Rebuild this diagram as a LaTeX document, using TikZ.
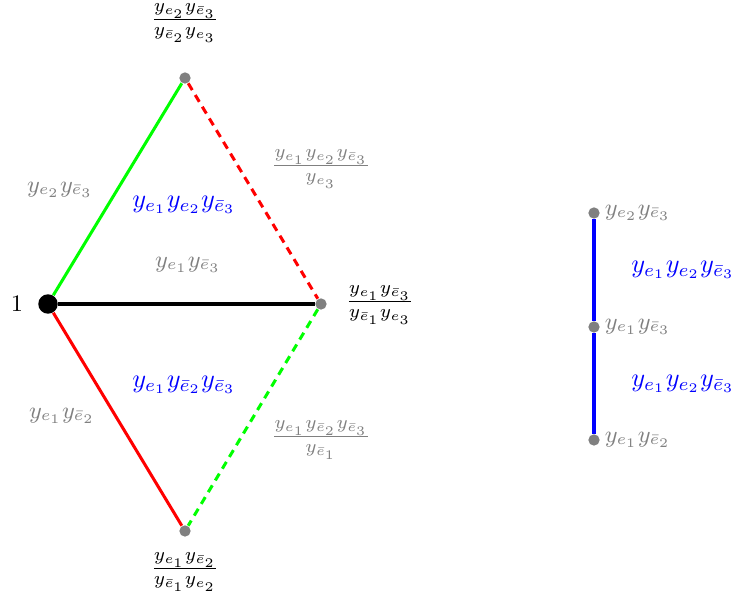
\documentclass[tikz,border=0pt]{standalone}
\usepackage{amsmath}
\begin{document}
\begin{tikzpicture}[x=0.38pt,y=-0.38pt,
  dot/.style={circle,fill=gray,inner sep=0pt,minimum size=4.3pt},
  bigdot/.style={circle,fill=black,inner sep=0pt,minimum size=7.4pt},
  edge/.style={line width=1.15pt},
  dsh/.style={line width=1.15pt,dash pattern=on 3pt off 2.2pt},
  glab/.style={text=gray,font=\small,inner sep=1pt},
  blab/.style={text=blue,inner sep=1pt},
  flab/.style={font=\normalsize,inner sep=1pt},
  gflab/.style={text=gray,font=\normalsize,inner sep=1pt}]
\useasboundingbox (0,0) rectangle (731,598);
% nodes
\node[bigdot] (A) at (48,304) {};
\node[dot] (T) at (185,78) {};
\node[dot] (R) at (321,304) {};
\node[dot] (B) at (185,531) {};
% edges
\draw[edge,green] (A) -- (T);
\draw[dsh,red] (T) -- (R);
\draw[edge,black] (A) -- (R);
\draw[dsh,green] (R) -- (B);
\draw[edge,red] (A) -- (B);
% labels
\node[font=\small,inner sep=1pt] (l1) at (17,304) {$1$};
\node[flab] (lT) at (185,23) {$\frac{y_{e_2}y_{\bar e_3}}{y_{\bar e_2}y_{e_3}}$};
\node[flab] (lR) at (380,305) {$\frac{y_{e_1}y_{\bar e_3}}{y_{\bar e_1}y_{e_3}}$};
\node[flab] (lB) at (185,572) {$\frac{y_{e_1}y_{\bar e_2}}{y_{\bar e_1}y_{e_2}}$};
\node[glab] (g1) at (60,190) {$y_{e_2}y_{\bar e_3}$};
\node[glab] (g2) at (188,265) {$y_{e_1}y_{\bar e_3}$};
\node[glab] (g3) at (62,416) {$y_{e_1}y_{\bar e_2}$};
\node[gflab] (gf1) at (321,169) {$\color{gray}\frac{y_{e_1}y_{e_2}y_{\bar e_3}}{y_{e_3}}$};
\node[gflab] (gf2) at (321,440) {$\color{gray}\frac{y_{e_1}y_{\bar e_2}y_{\bar e_3}}{y_{\bar e_1}}$};
\node[blab] (b1) at (184,205) {$y_{e_1}y_{e_2}y_{\bar e_3}$};
\node[blab] (b2) at (184,385) {$y_{e_1}y_{\bar e_2}y_{\bar e_3}$};
% right column
\node[dot] (P) at (594,213) {};
\node[dot] (Q) at (594,327) {};
\node[dot] (S) at (594,440) {};
\draw[edge,blue] (P) -- (Q);
\draw[edge,blue] (Q) -- (S);
\node[glab,anchor=west] (pl) at ([xshift=0.6pt]P.east) {$y_{e_2}y_{\bar e_3}$};
\node[glab,anchor=west] (ql) at ([xshift=0.6pt]Q.east) {$y_{e_1}y_{\bar e_3}$};
\node[glab,anchor=west] (sl) at ([xshift=0.6pt]S.east) {$y_{e_1}y_{\bar e_2}$};
\node[blab] (pb) at (683,270) {$y_{e_1}y_{e_2}y_{\bar e_3}$};
\node[blab] (qb) at (683,384) {$y_{e_1}y_{e_2}y_{\bar e_3}$};
\end{tikzpicture}
\end{document}
